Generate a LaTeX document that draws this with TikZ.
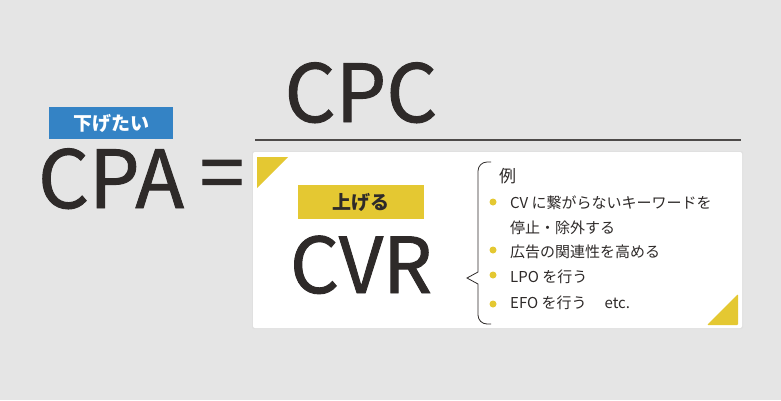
\documentclass[tikz,border=0pt]{standalone}
\usepackage{fontspec}
\setmainfont{Noto Sans CJK JP}
\newfontfamily\heavyfont[FakeBold=1.2]{Noto Sans CJK JP}
\usepackage{tikz}
\usetikzlibrary{positioning}

\definecolor{bggray}{HTML}{E5E5E5}
\definecolor{ink}{HTML}{2E2A29}
\definecolor{tagblue}{HTML}{3483C5}
\definecolor{tagyellow}{HTML}{E4C832}

\begin{document}
\begin{tikzpicture}[x=1pt, y=-1pt,
	bigterm/.style = {inner sep=0, text=ink, font=\heavyfont\fontsize{80}{80}\selectfont},
	tagbox/.style = {inner sep=0, minimum width=124, minimum height=32, font=\fontsize{19}{19}\selectfont\bfseries},
	listtext/.style = {anchor=west, inner sep=0, text=ink, font=\fontsize{15}{15}\selectfont}
	]
	
	% background
	\fill[bggray] (0,0) rectangle (781,400);
	\useasboundingbox (0,0) rectangle (781,400);
	
	% numerator
	\node[bigterm, anchor=base] (cpc) at (361,122) {CPC};
	\draw[ink!85, line width=1.6pt] (255,140) -- (741,140);
	
	% left side
	\node[tagbox, fill=tagblue, text=white] (lower) at (111,123) {下げたい};
	\node[bigterm, anchor=base] (cpa) at (111,208) {CPA};
	\node[bigterm] (eq) at (222,181) {=};
	
	% denominator box
	\fill[black!12, rounded corners=2] (252,151) rectangle (743,329);
	\fill[white, rounded corners=2] (253,152) rectangle (742,328);
	\fill[tagyellow] (257,157) -- (288,157) -- (257,188) -- cycle;
	\fill[tagyellow, rounded corners=1] (738,294) -- (738,325) -- (707,325) -- cycle;
	
	\node[tagbox, fill=tagyellow, text=ink, minimum width=126, minimum height=34] (raise) at (361,202) {上げる};
	\node[bigterm, anchor=base, font=\heavyfont\fontsize{77}{77}\selectfont] (cvr) at (361,293) {CVR};
	
	% bracket
	\draw[ink, line width=0.8pt] (491,162) [rounded corners=9] -- (478,162) -- (478,230) [sharp corners] -- (478,272) -- (467,278) -- (478,284) [rounded corners=9] -- (478,324) -- (491,324);
	
	% examples
	\node[listtext, font=\fontsize{17}{17}\selectfont] (ex) at (499,176) {例};
	\node[listtext] (item1) at (510,203) {CV に繋がらないキーワードを};
	\node[listtext] (item1b) at (510,228) {停止・除外する};
	\node[listtext] (item2) at (510,252) {広告の関連性を高める};
	\node[listtext] (item3) at (510,277) {LPO を行う};
	\node[listtext] (item4) at (510,303) {EFO を行う\hspace{1.2em}etc.};
	\foreach \y in {202,250,275,304}
		\fill[tagyellow] (493,\y) circle (3.5);
	
\end{tikzpicture}
\end{document}
